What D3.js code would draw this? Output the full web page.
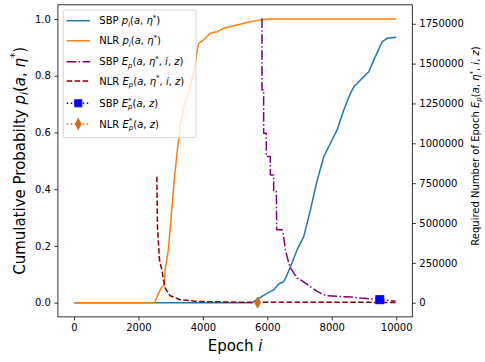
<!DOCTYPE html>
<html lang="en">
  <head>
    <meta charset="utf-8">
    <title>Cumulative Probability vs Epoch</title>
    <script src="https://cdn.jsdelivr.net/npm/d3@7/dist/d3.min.js" charset="utf-8"></script>
<style type="text/css">
body{margin:0;background:#fff;}
text{font-family:"DejaVu Sans",sans-serif;fill:#000;}
</style>
  </head>
  <body>
    <div id="main"></div>
<script type="text/javascript">

////////////////////////////////////////////////////////////////////////////////
///////////////////////////////// data /////////////////////////////////////////
////////////////////////////////////////////////////////////////////////////////

// cumulative probability curves [epoch, p]
var sbpP = [[0,0],[5550,0],[5574,0.004],[5782,0.019],[5990,0.033],[6197,0.045],[6353,0.066],
  [6508,0.074],[6612,0.098],[6716,0.127],[6923,0.186],[7130,0.233],[7337,0.327],[7545,0.43],
  [7752,0.515],[7959,0.562],[8166,0.609],[8373,0.679],[8580,0.738],[8683,0.761],[8890,0.785],
  [9149,0.814],[9305,0.855],[9564,0.92],[9720,0.932],[10000,0.936]]
var nlrP = [[0,0],[2500,0],[2518,0.004],[2621,0.033],[2725,0.056],[2798,0.062],[2829,0.115],
  [2932,0.19],[3036,0.33],[3110,0.43],[3191,0.52],[3295,0.62],[3398,0.69],[3553,0.738],
  [3709,0.809],[3864,0.914],[4020,0.926],[4227,0.95],[4435,0.955],[4642,0.967],[5057,0.979],
  [5471,0.99],[5885,0.998],[6030,1.0],[10000,1.0]]

// required number of epochs [epoch, E]
var sbpE = [[5834,1784000],[5834,1335000],[5886,1335000],[5886,1063000],[5968,1063000],
  [5968,917000],[6093,917000],[6093,802000],[6197,802000],[6197,697000],[6280,697000],
  [6290,457000],[6456,457000],[6490,440000],[6560,332000],[6694,227000],[6923,155000],
  [7025,145000],[7337,100000],[7545,71000],[7752,50000],[7855,44000],[8166,40000],
  [8580,36000],[8890,29000],[9491,19000],[9979,10000]]
var nlrE = [[2570,791000],[2590,478000],[2652,269000],[2725,207000],[2777,144000],
  [2829,92000],[2984,44000],[3295,19000],[3814,8000],[5160,3000],[7000,2500],[10000,2000]]

// optimal points
var sbpStar = [[9491,19000]]
var nlrStar = [[5699,1000]]

var xTicks = [0,2000,4000,6000,8000,10000]
var yLeftTicks = [0,0.2,0.4,0.6,0.8,1.0]
var yRightTicks = [0,250000,500000,750000,1000000,1250000,1500000,1750000]

////////////////////////////////////////////////////////////////////////////////
///////////////////////////////// main stuff ///////////////////////////////////
////////////////////////////////////////////////////////////////////////////////

var width = 485, height = 362
var pLeft = 57.9, pRight = 412.3, pTop = 4.8, pBottom = 316.9

var canvas = d3.select("#main").append("svg").attr("width",width).attr("height",height)

var x = d3.scaleLinear().domain([-500,10500]).range([pLeft,pRight])
var yL = d3.scaleLinear().domain([-0.05,1.05]).range([pBottom,pTop])
var yR = d3.scaleLinear().domain([-89000,1869000]).range([pBottom,pTop])

// mathtext-ish helper: parts = [text, italic, 'sub'|'sup', dx]
function mtext(t, parts, fs){
  var cur = 0
  parts.forEach(function(p){
    var off = 0, size = fs
    if(p[2]=='sub'){off = 0.22*fs; size = fs*0.7}
    if(p[2]=='sup'){off = -0.42*fs; size = fs*0.7}
    var ts = t.append("tspan").text(p[0]).attr("dy",off-cur).style("font-size",size+"px")
    if(p[1]) ts.style("font-style","italic")
    if(p[3]) ts.attr("dx",p[3])
    cur = off
  })
}

// axes
var gx = canvas.append("g").attr("transform","translate(0,"+pBottom+")")
  .call(d3.axisBottom(x).tickValues(xTicks).tickSize(3.5).tickPadding(3.5).tickFormat(d3.format("d")))
var gl = canvas.append("g").attr("transform","translate("+pLeft+",0)")
  .call(d3.axisLeft(yL).tickValues(yLeftTicks).tickSize(3.5).tickPadding(3.5).tickFormat(d3.format(".1f")))
var gr = canvas.append("g").attr("transform","translate("+pRight+",0)")
  .call(d3.axisRight(yR).tickValues(yRightTicks).tickSize(3.5).tickPadding(3.5).tickFormat(d3.format("d")))
;[gx,gl,gr].forEach(function(g){
  g.select(".domain").remove()
  g.selectAll("line").attr("stroke","#000").attr("stroke-width",0.8)
  g.selectAll("text").style("font-size","10px").style("font-family","DejaVu Sans").attr("fill","#000")
})

// frame
canvas.append("rect").attr("x",pLeft).attr("y",pTop).attr("width",pRight-pLeft).attr("height",pBottom-pTop)
  .attr("fill","none").attr("stroke","#000").attr("stroke-width",0.8)

// lines
var lineL = d3.line().x(function(d){return x(d[0])}).y(function(d){return yL(d[1])})
var lineR = d3.line().x(function(d){return x(d[0])}).y(function(d){return yR(d[1])})

var series = [
  {data:sbpP, line:lineL, color:"#1f77b4", dash:null},
  {data:nlrP, line:lineL, color:"#ff7f0e", dash:null},
  {data:sbpE, line:lineR, color:"#800080", dash:"9.6,2.4,1.5,2.4"},
  {data:nlrE, line:lineR, color:"#8b0000", dash:"5.55,2.4"}
]
series.forEach(function(s){
  canvas.append("path").attr("d",s.line(s.data)).attr("fill","none")
    .attr("stroke",s.color).attr("stroke-width",1.5).attr("stroke-dasharray",s.dash)
    .attr("stroke-linejoin","round")
})

// markers
function square(g,cx,cy,s,c){
  g.append("rect").attr("x",cx-s/2).attr("y",cy-s/2).attr("width",s).attr("height",s)
    .attr("fill",c).attr("stroke",c).attr("stroke-width",1)
}
function diamond(g,cx,cy,h,w,c){
  g.append("path").attr("d","M"+cx+","+(cy-h)+"L"+(cx+w)+","+cy+"L"+cx+","+(cy+h)+"L"+(cx-w)+","+cy+"Z")
    .attr("fill",c).attr("stroke",c).attr("stroke-width",1)
}
sbpStar.forEach(function(d){square(canvas,x(d[0]),yR(d[1]),8,"#0000ff")})
nlrStar.forEach(function(d){diamond(canvas,x(d[0]),yR(d[1]),5.5,2.8,"#d2691e")})

// axis labels
var xl = canvas.append("text").attr("x",(pLeft+pRight)/2).attr("y",351).attr("text-anchor","middle").style("font-size","15px")
mtext(xl,[["Epoch ",0],["i",1]],15)

var ylab = canvas.append("text").attr("transform","translate(24.5,"+((pTop+pBottom)/2)+") rotate(-90)")
  .attr("text-anchor","middle").style("font-size","15px")
mtext(ylab,[["Cumulative Probabilty ",0],["p",1],["i",1,"sub"],["(",0],["a",1],[", ",0],["η",1],["*",0,"sup"],[")",0]],15)

var yrlab = canvas.append("text").attr("transform","translate(479,146) rotate(-90)")
  .attr("text-anchor","middle").style("font-size","10px")
mtext(yrlab,[["Required Number of Epoch ",0],["E",1],["p",1,"sub"],["(",0],["a",1],[", ",0],["η",1],["*",0,"sup"],[", ",0],["i",1],[", ",0],["z",1],[")",0]],10)

////////////////////////////////////////////////////////////////////////////////
///////////////////////////////// legend ///////////////////////////////////////
////////////////////////////////////////////////////////////////////////////////

var leg = canvas.append("g")
leg.append("rect").attr("x",63.3).attr("y",10).attr("width",132.7).attr("height",127.7)
  .attr("rx",2).attr("fill","#fff").attr("fill-opacity",0.8).attr("stroke","#cccccc").attr("stroke-width",0.8)

var legRows = [
  {y:20.7, color:"#1f77b4", dash:null, mark:null,
    label:[["SBP ",0],["p",1],["i",1,"sub"],["(",0],["a",1],[", ",0],["η",1],["*",0,"sup"],[")",0]]},
  {y:40.7, color:"#ff7f0e", dash:null, mark:null,
    label:[["NLR ",0],["p",1],["i",1,"sub"],["(",0],["a",1],[", ",0],["η",1],["*",0,"sup"],[")",0]]},
  {y:61.7, color:"#800080", dash:"9.6,2.4,1.5,2.4", mark:null,
    label:[["SBP ",0],["E",1],["p",1,"sub"],["(",0],["a",1],[", ",0],["η",1],["*",0,"sup"],[", ",0],["i",1],[", ",0],["z",1],[")",0]]},
  {y:81, color:"#8b0000", dash:"5.55,2.4", mark:null,
    label:[["NLR ",0],["E",1],["p",1,"sub"],["(",0],["a",1],[", ",0],["η",1],["*",0,"sup"],[", ",0],["i",1],[", ",0],["z",1],[")",0]]},
  {y:103.3, color:"#0000ff", dash:"1.5,2.5", mark:"square",
    label:[["SBP ",0],["E",1],["*",0,"sup"],["p",1,"sub",-3.5],["(",0],["a",1],[", ",0],["z",1],[")",0]]},
  {y:124, color:"#d2691e", dash:"1.5,2.5", mark:"diamond",
    label:[["NLR ",0],["E",1],["*",0,"sup"],["p",1,"sub",-3.5],["(",0],["a",1],[", ",0],["z",1],[")",0]]}
]
legRows.forEach(function(r){
  leg.append("line").attr("x1",66.7).attr("x2",90).attr("y1",r.y).attr("y2",r.y)
    .attr("stroke",r.color).attr("stroke-width",1.5).attr("stroke-dasharray",r.dash)
  if(r.mark=="square") square(leg,78.3,r.y,7,r.color)
  if(r.mark=="diamond") diamond(leg,78.3,r.y,5.5,2.8,r.color)
  var t = leg.append("text").attr("x",99.3).attr("y",r.y+3.6).style("font-size","10px")
  mtext(t,r.label,10)
})

</script>
  </body>
</html>
